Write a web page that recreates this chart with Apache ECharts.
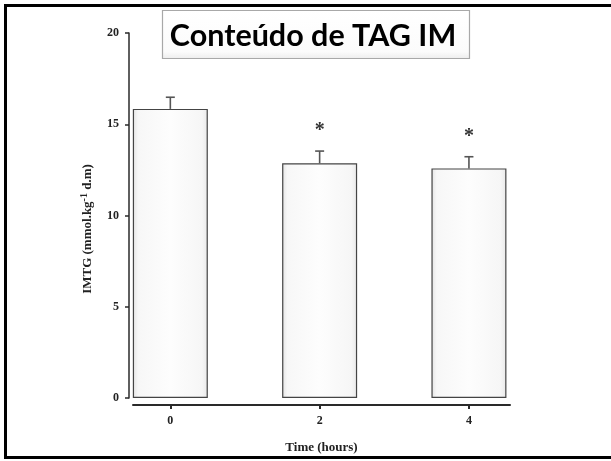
<!DOCTYPE html>
<html>
<head>
<meta charset="utf-8">
<script src="https://cdn.jsdelivr.net/npm/echarts@6/dist/echarts.min.js"></script>
<style>
  html, body { margin: 0; padding: 0; background: #fff; overflow: hidden; }
  #chart { width: 611px; height: 461px; }
</style>
</head>
<body>
<div id="chart"></div>
<script>
// Time points (hours) and IMTG content
const timePoints = [0, 2, 4];
const imtgMeans = [15.84, 12.86, 12.58];
const imtgErrors = [0.64, 0.67, 0.64];
const significant = [false, true, true];
const yTicks = [0, 5, 10, 15, 20];

const serif = '"Liberation Serif", "DejaVu Serif", serif';
const axisColor = '#2a2a2a';

const barData = timePoints.map((t, i) => [t, imtgMeans[i]]);
const errData = timePoints.map((t, i) => [t, imtgMeans[i], imtgErrors[i], significant[i] ? 1 : 0]);

const chart = echarts.init(document.getElementById('chart'), null, { renderer: 'canvas' });

chart.setOption({
  animation: false,
  backgroundColor: '#ffffff',
  grid: { left: 133, right: 101, top: 33, bottom: 63, containLabel: false },
  xAxis: {
    type: 'value',
    min: -0.5,
    max: 4.55,
    offset: 7,
    name: 'Time (hours)',
    nameLocation: 'middle',
    nameGap: 36,
    nameTextStyle: { fontFamily: serif, fontWeight: 'bold', fontSize: 13, color: '#222' },
    axisLine: { show: true, onZero: false, lineStyle: { color: axisColor, width: 2 } },
    axisTick: { show: true, customValues: timePoints, length: 4, lineStyle: { color: axisColor, width: 2 } },
    axisLabel: {
      customValues: timePoints,
      margin: 10,
      fontFamily: serif, fontWeight: 'bold', fontSize: 12, color: '#222'
    },
    splitLine: { show: false }
  },
  yAxis: {
    type: 'value',
    min: 0,
    max: 20,
    interval: 5,
    offset: 4,
    axisLine: { show: true, onZero: false, lineStyle: { color: axisColor, width: 1.5 } },
    axisTick: { show: true, length: 4, lineStyle: { color: axisColor, width: 1.5 } },
    axisLabel: {
      customValues: yTicks,
      margin: 10,
      fontFamily: serif, fontWeight: 'bold', fontSize: 12, color: '#222'
    },
    splitLine: { show: false }
  },
  series: [
    {
      type: 'bar',
      data: barData,
      barWidth: 75,
      itemStyle: {
        color: {
          type: 'linear', x: 0, y: 0, x2: 1, y2: 0,
          colorStops: [
            { offset: 0, color: '#e4e4e4' },
            { offset: 0.07, color: '#f7f7f7' },
            { offset: 0.5, color: '#fdfdfd' },
            { offset: 0.92, color: '#f6f6f6' },
            { offset: 1, color: '#e9e9e9' }
          ]
        },
        borderColor: '#444',
        borderWidth: 1.2
      },
      z: 2
    },
    {
      // upper SEM whiskers and significance markers
      type: 'custom',
      data: errData,
      z: 3,
      renderItem: function (params, api) {
        const x = api.value(0);
        const mean = api.value(1);
        const err = api.value(2);
        const sig = api.value(3);
        const base = api.coord([x, mean]);
        const top = api.coord([x, mean + err]);
        const cap = 4.5;
        const style = { stroke: '#555', lineWidth: 1.6 };
        const children = [
          { type: 'line', shape: { x1: top[0], y1: base[1], x2: top[0], y2: top[1] }, style: style },
          { type: 'line', shape: { x1: top[0] - cap, y1: top[1], x2: top[0] + cap, y2: top[1] }, style: style }
        ];
        if (sig) {
          children.push({
            type: 'text',
            x: top[0],
            y: top[1] - 20,
            style: {
              text: '*',
              fontFamily: serif, fontWeight: 'bold', fontSize: 20,
              fill: '#333', align: 'center', verticalAlign: 'middle'
            }
          });
        }
        return { type: 'group', children: children };
      }
    }
  ],
  graphic: [
    {
      // outer frame: left, top and bottom edges
      type: 'polyline',
      shape: { points: [[700, 5.5], [5.5, 5.5], [5.5, 457.5], [700, 457.5]] },
      style: { fill: 'none', stroke: '#000', lineWidth: 3 },
      z: 100
    },
    {
      // title box
      type: 'rect',
      shape: { x: 162.5, y: 10.5, width: 307, height: 48 },
      style: {
        fill: {
          type: 'linear', x: 0, y: 0, x2: 0, y2: 1,
          colorStops: [
            { offset: 0, color: '#ffffff' },
            { offset: 0.85, color: '#fbfbfb' },
            { offset: 1, color: '#ececec' }
          ]
        },
        stroke: '#a8a8a8', lineWidth: 1.2
      },
      z: 50
    },
    {
      type: 'text',
      x: 313,
      y: 36,
      style: {
        text: 'Conteúdo de TAG IM',
        fontFamily: 'Lato, "Noto Sans", sans-serif',
        fontWeight: 'bold',
        fontSize: 30.5,
        fill: '#000',
        align: 'center',
        verticalAlign: 'middle'
      },
      z: 51
    },
    {
      // y-axis title with superscript
      type: 'text',
      x: 88,
      y: 229,
      rotation: Math.PI / 2,
      style: {
        text: '{b|IMTG (mmol.kg}{s|-1}{b| d.m)}',
        align: 'center',
        verticalAlign: 'middle',
        rich: {
          b: { fontFamily: serif, fontWeight: 'bold', fontSize: 13, fill: '#222' },
          s: { fontFamily: serif, fontWeight: 'bold', fontSize: 10, fill: '#222', padding: [0, 0, 8, 0] }
        }
      },
      z: 50
    }
  ]
});
</script>
</body>
</html>
